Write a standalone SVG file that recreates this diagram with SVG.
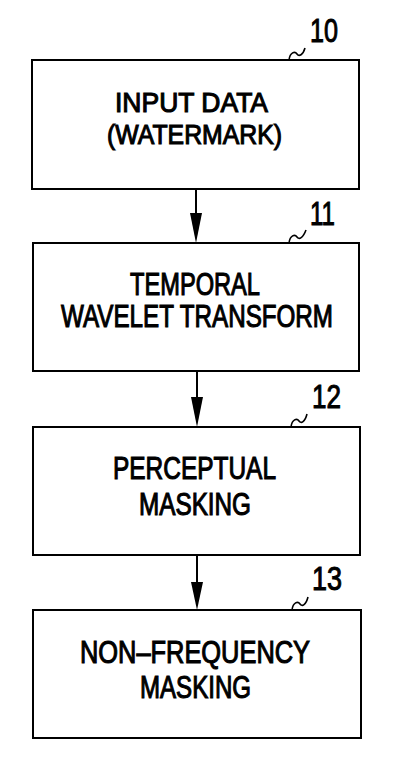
<svg xmlns="http://www.w3.org/2000/svg" width="400" height="778" viewBox="0 0 400 778">
<style>
.box{fill:#fff;stroke:#000;stroke-width:2}
.t{font-family:"Liberation Sans",Arial,sans-serif;font-size:31px;fill:#000;stroke:#000;stroke-width:1.1}
.t1{font-size:28px}
.n{font-family:"Liberation Sans",Arial,sans-serif;font-size:33px;fill:#000;stroke:#000;stroke-width:1}
.lead{fill:none;stroke:#000;stroke-width:1.6}
.c{stroke:#000;stroke-width:2;fill:none}
.h{fill:#000}
</style>
<rect width="400" height="778" fill="#fff"/>
<g id="connectors">
<line class="c" x1="196" y1="189" x2="196" y2="215"/>
<polygon class="h" points="190,213 202,213 196,243"/>
<line class="c" x1="197" y1="371" x2="197" y2="399"/>
<polygon class="h" points="191,397 203,397 197,427"/>
<line class="c" x1="197" y1="555" x2="197" y2="584"/>
<polygon class="h" points="191,582 203,582 197,610"/>
</g>
<g id="node10">
<rect class="box" x="32" y="60" width="327" height="129"/>
<text class="t t1" x="115" y="112" textLength="153" lengthAdjust="spacingAndGlyphs">INPUT  DATA</text>
<text class="t t1" x="107" y="144" textLength="175" lengthAdjust="spacingAndGlyphs">(WATERMARK)</text>
<path class="lead" d="M289,60 C290,52 295,51 297,54 C299,57 303,55 305,48"/>
<text class="n" x="310" y="42" textLength="28" lengthAdjust="spacingAndGlyphs">10</text>
</g>
<g id="node11">
<rect class="box" x="33" y="243" width="326" height="128"/>
<text class="t" x="130" y="295" textLength="130" lengthAdjust="spacingAndGlyphs">TEMPORAL</text>
<text class="t" x="61" y="327" textLength="272" lengthAdjust="spacingAndGlyphs">WAVELET  TRANSFORM</text>
<path class="lead" d="M289,243 C290,235 295,234 297,237 C299,240 303,238 306,230"/>
<text class="n" x="310" y="225" textLength="25" lengthAdjust="spacingAndGlyphs">11</text>
</g>
<g id="node12">
<rect class="box" x="33" y="427" width="327" height="128"/>
<text class="t" x="113" y="479" textLength="163" lengthAdjust="spacingAndGlyphs">PERCEPTUAL</text>
<text class="t" x="139" y="515" textLength="112" lengthAdjust="spacingAndGlyphs">MASKING</text>
<path class="lead" d="M291,427 C292,419 297,418 299,421 C301,424 305,422 307,414"/>
<text class="n" x="312" y="408" textLength="29" lengthAdjust="spacingAndGlyphs">12</text>
</g>
<g id="node13">
<rect class="box" x="33" y="610" width="328" height="128"/>
<text class="t" x="80" y="663" textLength="230" lengthAdjust="spacingAndGlyphs">NON–FREQUENCY</text>
<text class="t" x="140" y="698" textLength="111" lengthAdjust="spacingAndGlyphs">MASKING</text>
<path class="lead" d="M292,610 C293,602 298,601 300,604 C302,607 306,605 308,597"/>
<text class="n" x="312" y="590" textLength="30" lengthAdjust="spacingAndGlyphs">13</text>
</g>
</svg>
